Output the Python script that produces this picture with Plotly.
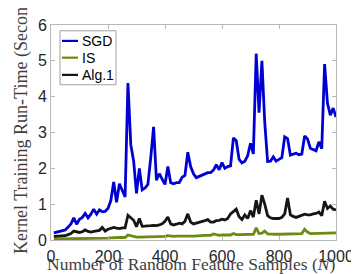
import plotly.graph_objects as go

N = list(range(10, 1001, 10))

sgd = [0.20, 0.22, 0.22, 0.25, 0.28, 0.36, 0.45, 0.62, 0.44, 0.58,
       0.63, 0.74, 0.62, 0.72, 0.86, 0.72, 0.84, 0.79, 0.80, 0.88,
       1.10, 1.62, 1.05, 1.57, 1.40, 1.20, 4.38, 2.66, 2.20, 1.30,
       2.00, 1.40, 1.45, 1.55, 2.30, 3.16, 1.67, 1.85, 1.70, 1.55,
       2.05, 1.60, 1.57, 1.60, 1.60, 1.75, 1.80, 2.45, 2.05, 1.85,
       1.74, 1.78, 1.82, 1.86, 1.88, 1.88, 1.95, 2.10, 1.96, 2.16,
       2.00, 2.05, 2.07, 2.85, 2.77, 2.25, 2.15, 2.20, 2.35, 2.70,
       2.40, 5.20, 3.55, 5.00, 3.28, 2.19, 2.20, 2.32, 2.20, 2.25,
       2.30, 2.88, 2.83, 2.37, 2.40, 2.42, 2.38, 2.40, 2.90, 2.82,
       2.56, 2.52, 2.49, 2.74, 2.55, 4.91, 3.82, 3.48, 3.68, 3.43]

is_vals = [0.03, 0.03, 0.03, 0.03, 0.03, 0.03, 0.03, 0.04, 0.03, 0.03,
           0.03, 0.04, 0.04, 0.04, 0.04, 0.05, 0.04, 0.05, 0.05, 0.05,
           0.06, 0.07, 0.06, 0.07, 0.07, 0.07, 0.14, 0.12, 0.08, 0.08,
           0.08, 0.08, 0.09, 0.09, 0.09, 0.10, 0.09, 0.10, 0.10, 0.10,
           0.12, 0.10, 0.10, 0.11, 0.10, 0.11, 0.11, 0.12, 0.11, 0.11,
           0.12, 0.12, 0.12, 0.13, 0.13, 0.13, 0.17, 0.14, 0.13, 0.14,
           0.14, 0.15, 0.14, 0.18, 0.15, 0.15, 0.15, 0.15, 0.16, 0.15,
           0.16, 0.34, 0.18, 0.19, 0.25, 0.17, 0.16, 0.16, 0.16, 0.16,
           0.16, 0.17, 0.17, 0.17, 0.17, 0.17, 0.17, 0.18, 0.30, 0.22,
           0.18, 0.18, 0.19, 0.19, 0.19, 0.19, 0.19, 0.20, 0.20, 0.20]

alg1 = [0.10, 0.10, 0.11, 0.11, 0.12, 0.15, 0.18, 0.25, 0.22, 0.21,
        0.23, 0.28, 0.24, 0.22, 0.24, 0.26, 0.27, 0.35, 0.25, 0.30,
        0.32, 0.35, 0.33, 0.32, 0.34, 0.34, 0.69, 0.62, 0.55, 0.37,
        0.60, 0.38, 0.38, 0.40, 0.40, 0.41, 0.40, 0.42, 0.45, 0.52,
        0.64, 0.45, 0.42, 0.44, 0.47, 0.45, 0.52, 0.73, 0.50, 0.45,
        0.47, 0.50, 0.50, 0.54, 0.57, 0.50, 0.50, 0.54, 0.55, 0.58,
        0.56, 0.60, 0.73, 0.80, 0.86, 0.65, 0.57, 0.70, 0.60, 0.82,
        0.64, 1.11, 0.73, 1.25, 1.00, 0.68, 0.62, 0.60, 0.60, 0.60,
        0.63, 0.73, 1.17, 0.70, 0.66, 0.63, 0.66, 0.68, 0.72, 0.70,
        0.70, 0.73, 0.74, 0.78, 0.68, 1.08, 0.88, 0.95, 0.86, 0.84]

names = ["SGD", "IS", "Alg.1"]
colors = ["#0000d2", "#6b8c10", "#161616"]
series = [sgd, is_vals, alg1]

x_ticks = [0, 200, 400, 600, 800, 1000]
y_ticks = [0, 1, 2, 3, 4, 5, 6]

x_title = "Number of Random Feature Samples (<i>N</i>)"
y_title = "Kernel Training Run-Time (Seconds)"

fig = go.Figure()
for name, col, vals in zip(names, colors, series):
    fig.add_trace(go.Scatter(x=N, y=vals, mode="lines", name=name,
                             line=dict(color=col, width=2.8),
                             showlegend=False))

axis_common = dict(showline=True, linecolor="#b8b8b8", linewidth=1,
                   mirror="ticks", ticks="inside", ticklen=4,
                   tickcolor="#b8b8b8", showgrid=False, zeroline=False,
                   tickfont=dict(family="Liberation Sans", size=16,
                                 color="#262626"))

fig.update_layout(
    width=359, height=274,
    margin=dict(l=43, r=31, t=9, b=42),
    plot_bgcolor="white", paper_bgcolor="white",
    xaxis=dict(range=[0, 1000], tickvals=x_ticks, ticklabelstandoff=2,
               **axis_common),
    yaxis=dict(range=[0, 6], tickvals=y_ticks, **axis_common),
)

fig.add_annotation(xref="paper", yref="paper", x=0.49, y=-0.168,
                   xanchor="center", yanchor="bottom", text=x_title,
                   showarrow=False,
                   font=dict(family="Liberation Serif", size=17.5,
                             color="#404040"))
fig.add_annotation(xref="paper", yref="paper", x=-0.102, y=-0.072,
                   xanchor="center", yanchor="bottom", text=y_title,
                   textangle=-90, showarrow=False,
                   font=dict(family="Liberation Serif", size=18,
                             color="#404040"))

# manual legend (MATLAB style: short lines, boxed)
x0, x1 = 0.0316, 0.228
y0, y1 = 0.722, 0.973
fig.add_shape(type="rect", xref="paper", yref="paper", x0=x0, x1=x1,
              y0=y0, y1=y1, line=dict(color="#a0a0a0", width=1),
              fillcolor="white", layer="above")
ys = [0.926, 0.848, 0.768]
for name, col, yy in zip(names, colors, ys):
    fig.add_shape(type="line", xref="paper", yref="paper",
                  x0=0.0386, x1=0.0947, y0=yy, y1=yy,
                  line=dict(color=col, width=2.2), layer="above")
    fig.add_annotation(xref="paper", yref="paper", x=0.100, y=yy,
                       xanchor="left", yanchor="middle", text=name,
                       showarrow=False,
                       font=dict(family="Liberation Sans", size=14,
                                 color="#000000"))

fig.write_html("out.html")
